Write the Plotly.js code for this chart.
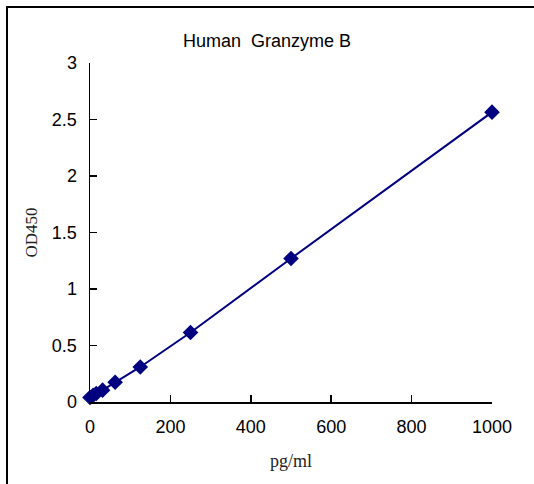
<!DOCTYPE html>
<html><head><meta charset="utf-8">
<script src="https://cdn.plot.ly/plotly-3.0.1.min.js"></script>
<style>
html,body{margin:0;padding:0;background:#fff;overflow:hidden;}
#wrap{position:relative;width:534px;height:484px;overflow:hidden;}
#chart{width:534px;height:484px;}
#frame{position:absolute;left:6px;top:6px;width:526px;height:476px;border-left:2px solid #000;border-top:2px solid #000;pointer-events:none;}
</style></head>
<body>
<div id="wrap"><div id="chart"></div><div id="frame"></div></div>
<script>
const concentrations = [0, 7.8, 15.6, 31.25, 62.5, 125, 250, 500, 1000];
const od450 = [0.04, 0.06, 0.075, 0.105, 0.175, 0.31, 0.615, 1.27, 2.565];
const xTicks = [0, 200, 400, 600, 800, 1000];
const yTicks = [0, 0.5, 1, 1.5, 2, 2.5, 3];

const trace = {
  x: concentrations, y: od450, type: 'scatter', mode: 'lines+markers',
  cliponaxis: false,
  line: {color: '#000080', width: 2},
  marker: {symbol: 'diamond', size: 12, color: '#000080'}
};
const layout = {
  width: 534, height: 484,
  margin: {l: 90, r: 42, t: 63, b: 82},
  paper_bgcolor: '#fff', plot_bgcolor: '#fff',
  showlegend: false,
  title: {text: 'Human  Granzyme B', font: {family: 'Liberation Sans, Arial', size: 18, color: '#000'}, x: 0.5, xanchor: 'center', y: 0.915, yanchor: 'middle'},
  xaxis: {
    range: [0, 1000], tickvals: xTicks, ticktext: xTicks.map(String),
    showgrid: false, zeroline: false, showline: true, linecolor: '#000', linewidth: 1.5,
    ticks: 'inside', ticklen: 7, tickcolor: '#000', tickwidth: 1.5,
    ticklabelstandoff: 8,
    tickfont: {family: 'Liberation Sans, Arial', size: 18, color: '#000'},
    title: {text: 'pg/ml', font: {family: 'Liberation Serif, serif', size: 18, color: '#222'}, standoff: 18}
  },
  yaxis: {
    range: [0, 3], tickvals: yTicks, ticktext: yTicks.map(String),
    showgrid: false, zeroline: false, showline: true, linecolor: '#000', linewidth: 1.5,
    ticks: 'inside', ticklen: 7, tickcolor: '#000', tickwidth: 1.5,
    ticklabelstandoff: 8,
    tickfont: {family: 'Liberation Sans, Arial', size: 18, color: '#000'},
    title: {text: 'OD450', font: {family: 'Liberation Serif, serif', size: 17, color: '#222'}, standoff: 10}
  }
};
Plotly.newPlot('chart', [trace], layout, {displayModeBar: false, staticPlot: true});
</script>
</body></html>
